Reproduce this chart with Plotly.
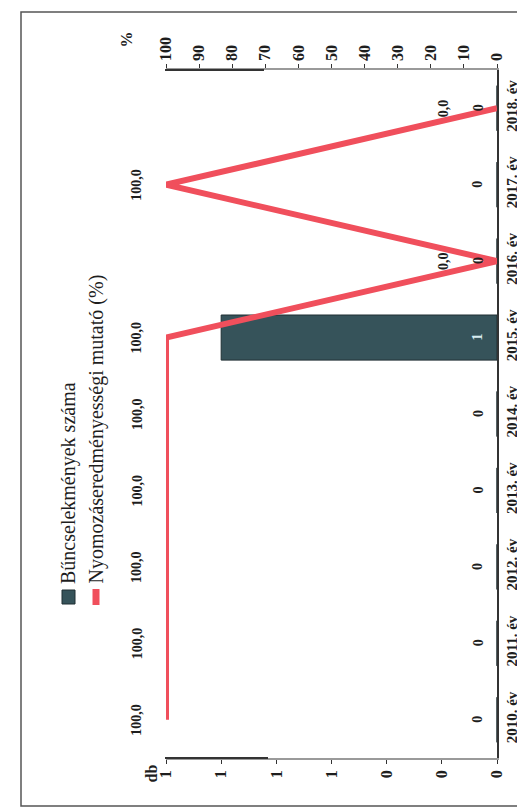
import plotly.graph_objects as go

# ---- data ----
years = ["2010. év", "2011. év", "2012. év", "2013. év", "2014. év",
         "2015. év", "2016. év", "2017. év", "2018. év"]
crimes = [0, 0, 0, 0, 0, 1, 0, 0, 0]                      # Bűncselekmények száma (db)
rate = [100.0, 100.0, 100.0, 100.0, 100.0, 100.0, 0.0, 100.0, 0.0]  # mutató (%)
db_tickvals = [0, 0.2, 0.4, 0.6, 0.8, 1.0, 1.2]
db_ticktext = ["0", "0", "0", "1", "1", "1", "1"]
pct_tickvals = [0, 10, 20, 30, 40, 50, 60, 70, 80, 90, 100]
legend_names = ["Bűncselekmények száma", "Nyomozáseredményességi mutató (%)"]

# ---- layout geometry (pixels) ----
W, H = 525, 810
PL, PR, PT, PB = 158, 489, 62, 750

def px(xpix):
    return (xpix - PL) / (PR - PL)

def py(ypix):
    return (PB - ypix) / (PB - PT)

BAR_COLOR = "#36535a"
LINE_COLOR = "#f04f5c"
SERIF = "Liberation Serif"
TXT = "#1e1e1e"

fig = go.Figure()
fig.add_trace(go.Bar(
    x=crimes, y=years, orientation="h", xaxis="x", yaxis="y",
    marker=dict(color=BAR_COLOR, line=dict(color="#1f2f33", width=1)),
    width=0.59, showlegend=False, hoverinfo="skip"))
fig.add_trace(go.Scatter(
    x=rate, y=years, xaxis="x2", yaxis="y", mode="lines",
    line=dict(color=LINE_COLOR, width=6), showlegend=False, hoverinfo="skip"))

ann = []
tickfont = dict(family=SERIF, size=16, color=TXT, weight="bold")
catfont = dict(family=SERIF, size=15, color=TXT, weight="bold")
labfont = dict(family=SERIF, size=14, color=TXT, weight="bold")
# bar value labels
for yv, v in zip(years, crimes):
    ann.append(dict(x=0, xref="x", y=yv, yref="y", xshift=-19, text=str(v),
                    textangle=-90, showarrow=False,
                    font=dict(family=SERIF, size=14,
                              color="#d8ecf0" if v > 0 else TXT, weight="bold")))
# line value labels
for yv, v in zip(years, rate):
    t = f"{v:.1f}".replace(".", ",")
    ann.append(dict(x=v, xref="x2", y=yv, yref="y",
                    xshift=-29 if v > 50 else -54, text=t,
                    textangle=-90, showarrow=False, font=labfont))
# axis unit labels
ann.append(dict(x=px(108), y=py(22), xref="paper", yref="paper", text="%",
                textangle=-90, showarrow=False, font=tickfont))
ann.append(dict(x=px(132), y=py(777), xref="paper", yref="paper", text="db",
                textangle=-90, showarrow=False, font=tickfont))
# legend texts
legfont = dict(family=SERIF, size=20, color=TXT)
ann.append(dict(x=px(60), y=py(578), xref="paper", yref="paper",
                text=legend_names[0], textangle=-90, showarrow=False,
                xanchor="center", yanchor="bottom", font=legfont))
ann.append(dict(x=px(88), y=py(578), xref="paper", yref="paper",
                text=legend_names[1], textangle=-90, showarrow=False,
                xanchor="center", yanchor="bottom", font=legfont))

AX_LIGHT = "#9a9a9a"
AX_DARK = "#333333"
shapes = [
    # legend markers
    dict(type="rect", xref="paper", yref="paper",
         x0=px(54), x1=px(67), y0=py(596), y1=py(582),
         fillcolor=BAR_COLOR, line=dict(color="#1f2f33", width=1)),
    dict(type="line", xref="paper", yref="paper",
         x0=px(88), x1=px(88), y0=py(597), y1=py(581),
         line=dict(color=LINE_COLOR, width=7)),
    # darker portions of the scanned axis lines
    dict(type="line", xref="paper", yref="paper",
         x0=px(157), x1=px(256), y0=1, y1=1, line=dict(color=AX_DARK, width=2)),
    dict(type="line", xref="paper", yref="paper",
         x0=px(157), x1=px(260), y0=0, y1=0, line=dict(color=AX_DARK, width=2)),
    # outer frame
    dict(type="rect", xref="paper", yref="paper",
         x0=px(13), x1=px(521), y0=py(798), y1=py(4),
         line=dict(color="#555555", width=1.5)),
]

fig.update_layout(
    width=W, height=H,
    margin=dict(l=PL, r=W - PR, t=PT, b=H - PB),
    paper_bgcolor="white", plot_bgcolor="white",
    bargap=0.41,
    xaxis=dict(range=[1.2, 0], tickvals=db_tickvals, ticktext=db_ticktext,
               tickangle=-90, side="bottom", showline=True, linecolor=AX_LIGHT,
               linewidth=1.5, ticks="outside", ticklen=4, tickcolor=AX_DARK,
               showgrid=False, zeroline=False, tickfont=tickfont),
    xaxis2=dict(range=[100, 0], tickvals=pct_tickvals, overlaying="x",
                side="top", tickangle=-90, showline=True, linecolor=AX_LIGHT,
                linewidth=1.5, ticks="outside", ticklen=4, tickcolor=AX_DARK,
                showgrid=False, zeroline=False, tickfont=tickfont),
    yaxis=dict(type="category", categoryorder="array", categoryarray=years,
               range=[-0.5, 8.5], side="right", tickangle=-90, showline=True,
               linecolor=AX_DARK, linewidth=1.5, ticks="", showgrid=False,
               zeroline=False, tickfont=catfont),
    annotations=ann, shapes=shapes, showlegend=False,
)

fig.write_html("out.html")
